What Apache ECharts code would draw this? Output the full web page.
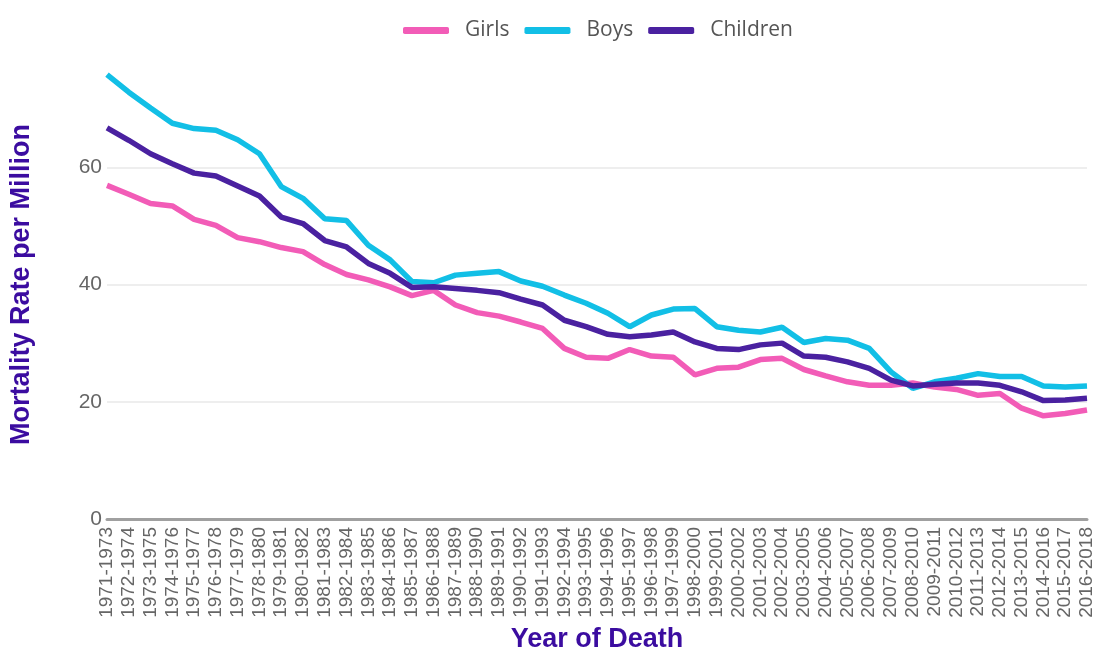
<!DOCTYPE html>
<html>
<head>
<meta charset="utf-8">
<script src="https://cdn.jsdelivr.net/npm/echarts@6/dist/echarts.min.js"></script>
<style>
  html, body { margin: 0; padding: 0; background: #fff; }
  #chart { width: 1100px; height: 648px; }
</style>
</head>
<body>
<div id="chart"></div>
<script>
var periods = ['1971-1973','1972-1974','1973-1975','1974-1976','1975-1977','1976-1978','1977-1979','1978-1980',
  '1979-1981','1980-1982','1981-1983','1982-1984','1983-1985','1984-1986','1985-1987','1986-1988','1987-1989',
  '1988-1990','1989-1991','1990-1992','1991-1993','1992-1994','1993-1995','1994-1996','1995-1997','1996-1998',
  '1997-1999','1998-2000','1999-2001','2000-2002','2001-2003','2002-2004','2003-2005','2004-2006','2005-2007',
  '2006-2008','2007-2009','2008-2010','2009-2011','2010-2012','2011-2013','2012-2014','2013-2015','2014-2016',
  '2015-2017','2016-2018'];

var girls = [56.9, 55.4, 53.8, 53.4, 51.1, 50.1, 48.0, 47.3, 46.3, 45.6,
  43.4, 41.7, 40.8, 39.6, 38.1, 39.0, 36.5, 35.2, 34.6, 33.6,
  32.5, 29.1, 27.6, 27.4, 28.9, 27.8, 27.6, 24.6, 25.7, 25.9,
  27.2, 27.4, 25.5, 24.4, 23.4, 22.8, 22.8, 23.2, 22.5, 22.1,
  21.1, 21.4, 18.9, 17.6, 18.0, 18.6];

var boys = [75.8, 72.8, 70.1, 67.5, 66.6, 66.3, 64.7, 62.3, 56.7, 54.7,
  51.2, 50.9, 46.7, 44.2, 40.5, 40.3, 41.6, 41.9, 42.2, 40.6,
  39.7, 38.2, 36.8, 35.1, 32.8, 34.8, 35.8, 35.9, 32.8, 32.2,
  31.9, 32.7, 30.1, 30.8, 30.5, 29.1, 25.1, 22.3, 23.4, 24.0,
  24.8, 24.3, 24.3, 22.7, 22.5, 22.7];

var children = [66.7, 64.6, 62.3, 60.6, 59.0, 58.5, 56.8, 55.1, 51.5, 50.4,
  47.5, 46.4, 43.6, 41.9, 39.5, 39.6, 39.3, 39.0, 38.6, 37.5,
  36.5, 33.9, 32.8, 31.5, 31.1, 31.4, 31.9, 30.2, 29.1, 28.9,
  29.7, 30.0, 27.8, 27.6, 26.8, 25.7, 23.7, 22.7, 23.0, 23.2,
  23.2, 22.8, 21.7, 20.2, 20.3, 20.6];

var chart = echarts.init(document.getElementById('chart'));
var nameColor = '#3b0ca0';

var makeLine = function(name, data, color) {
  return {
    name: name,
    type: 'line',
    data: data,
    showSymbol: false,
    symbol: 'none',
    lineStyle: { width: 5.5, color: color },
    itemStyle: { color: color },
    emphasis: { disabled: true }
  };
};

chart.setOption({
  animation: false,
  textStyle: { fontFamily: 'Liberation Sans, Arial, sans-serif' },
  legend: {
    top: 15,
    left: 398,
    itemWidth: 46,
    itemHeight: 7,
    itemGap: 15,
    icon: 'roundRect',
    textStyle: { fontSize: 21, color: '#555', fontFamily: 'Open Sans, sans-serif', padding: [0, 0, 0, 11] },
    data: ['Girls', 'Boys', 'Children']
  },
  grid: { left: 107, right: 13, top: 50, bottom: 129, containLabel: false, outerBoundsMode: 'none' },
  xAxis: {
    type: 'category',
    data: periods,
    boundaryGap: false,
    name: 'Year of Death',
    nameLocation: 'middle',
    nameGap: 106,
    nameTextStyle: { fontSize: 27, fontWeight: 'bold', color: nameColor },
    axisLine: { lineStyle: { color: '#a0a0a0', width: 3 } },
    axisTick: { show: false },
    axisLabel: { interval: 0, rotate: 90, fontSize: 19, color: '#666', margin: 8 },
    splitLine: { show: false }
  },
  yAxis: {
    type: 'value',
    min: 0,
    max: 80,
    interval: 20,
    name: 'Mortality Rate per Million',
    nameLocation: 'middle',
    nameGap: 72,
    nameTextStyle: { fontSize: 27, fontWeight: 'bold', color: nameColor },
    axisLine: { show: false },
    axisTick: { show: false },
    axisLabel: {
      fontSize: 21, color: '#666', margin: 5,
      formatter: function(v) { return v === 80 ? '' : v; }
    },
    splitLine: { lineStyle: { color: ['#eeeeee', '#eeeeee', '#eeeeee', '#eeeeee', 'rgba(0,0,0,0)'], width: 2 } }
  },
  series: [
    makeLine('Girls', girls, '#f25cb7'),
    makeLine('Boys', boys, '#12bfe6'),
    makeLine('Children', children, '#4a21a0')
  ]
});
</script>
</body>
</html>
